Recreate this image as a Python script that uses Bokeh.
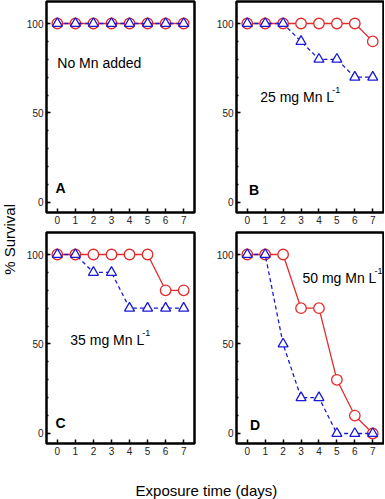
import math
from bokeh.plotting import figure
from bokeh.layouts import row, column
from bokeh.models import Label, FixedTicker, Range1d
from bokeh.embed import file_html
from bokeh.resources import INLINE

days = [0, 1, 2, 3, 4, 5, 6, 7]

a_red = [100, 100, 100, 100, 100, 100, 100, 100]
a_blue = [100, 100, 100, 100, 100, 100, 100, 100]
b_red = [100, 100, 100, 100, 100, 100, 100, 90]
b_blue = [100, 100, 100, 90, 80, 80, 70, 70]
c_red = [100, 100, 100, 100, 100, 100, 80, 80]
c_blue = [100, 100, 90, 90, 70, 70, 70, 70]
d_red = [100, 100, 100, 70, 70, 30, 10, 0]
d_blue = [100, 100, 50, 20, 20, 0, 0, 0]

panel_letters = ["A", "B", "C", "D"]
panel_notes = ["No Mn added", "25 mg Mn L", "35 mg Mn L", "50 mg Mn L"]
y_ticks = [0, 50, 100]
x_label = "Exposure time (days)"
y_label = "% Survival"

FONT = "Liberation Sans"
RED = "#e32b2b"
BLUE = "#1a1ad6"


def panel(red, blue, letter, note, note_pos, letter_pos, sup, frame_w, border_r,
          border_b):
    p = figure(frame_width=frame_w, frame_height=211,
               min_border_left=24, min_border_right=border_r,
               min_border_top=1, min_border_bottom=border_b,
               x_range=Range1d(-0.6, 7.6), y_range=Range1d(-5.6, 112.3),
               output_backend="svg", toolbar_location=None)
    p.xgrid.visible = False
    p.ygrid.visible = False
    p.outline_line_color = "black"
    p.outline_line_width = 2.5
    p.outline_line_alpha = 1
    for ax in (p.xaxis[0], p.yaxis[0]):
        ax.axis_line_color = None
        ax.major_tick_in = 4
        ax.major_tick_out = 0
        ax.major_tick_line_width = 1.5
        ax.major_tick_line_color = "black"
        ax.minor_tick_in = 2
        ax.minor_tick_out = 0
        ax.minor_tick_line_width = 1.5
        ax.minor_tick_line_color = "black"
        ax.major_label_text_font = FONT
        ax.major_label_text_font_size = "10px"
        ax.major_label_text_color = "#222222"
        ax.major_label_standoff = 3
    p.xaxis[0].ticker = FixedTicker(ticks=days)
    p.yaxis[0].ticker = FixedTicker(ticks=y_ticks, minor_ticks=list(range(0, 101, 10)))

    p.line(days, red, line_color=RED, line_width=1.3)
    p.scatter(days, red, marker="circle", size=10.5, line_color=RED,
              fill_color="white", line_width=1.3)
    p.line(days, blue, line_color=BLUE, line_width=1.3, line_dash="4 3")
    p.scatter(days, blue, marker="triangle", size=10, line_color=BLUE,
              fill_color="white", line_width=1.3)

    p.add_layout(Label(x=letter_pos[0], y=letter_pos[1], text=letter,
                       text_font=FONT, text_font_size="14px",
                       text_font_style="bold", text_baseline="middle",
                       text_color="black"))
    p.add_layout(Label(x=note_pos[0], y=note_pos[1], text=note,
                       text_font=FONT, text_font_size="14px",
                       text_baseline="middle", text_color="black"))
    if sup:
        p.add_layout(Label(x=note_pos[0], y=note_pos[1], text="-1",
                           x_offset=72, y_offset=7,
                           text_font=FONT, text_font_size="9px",
                           text_baseline="middle", text_color="black"))
    return p


pa = panel(a_red, a_blue, panel_letters[0], panel_notes[0], (0.0, 78), (-0.1, 8), False, 148, 18, 19)
pb = panel(b_red, b_blue, panel_letters[1], panel_notes[1], (0.72, 59), (0.1, 7), True, 147, 1, 19)
pc = panel(c_red, c_blue, panel_letters[2], panel_notes[2], (0.72, 52), (-0.1, 6), True, 148, 18, 20)
pd = panel(d_red, d_blue, panel_letters[3], panel_notes[3], (3.08, 87), (0.15, 5), True, 147, 1, 20)


def blank(w, h):
    f = figure(width=w, height=h, x_range=Range1d(0, 1), y_range=Range1d(0, 1),
               min_border=0, output_backend="svg", toolbar_location=None)
    f.axis.visible = False
    f.grid.visible = False
    f.outline_line_color = None
    return f


ylab = blank(22, 463)
ylab.add_layout(Label(x=0.4, y=0.484, text=y_label, angle=math.pi / 2,
                      text_align="center", text_baseline="middle",
                      text_font=FONT, text_font_size="15px", text_color="black"))

xlab = blank(362, 36)
xlab.add_layout(Label(x=0.508, y=0.25, text=x_label,
                      text_align="center", text_baseline="middle",
                      text_font=FONT, text_font_size="15px", text_color="black"))

layout = row(ylab, column(row(pa, pb), row(pc, pd), xlab))

open("out.html", "w").write(file_html(layout, INLINE))
